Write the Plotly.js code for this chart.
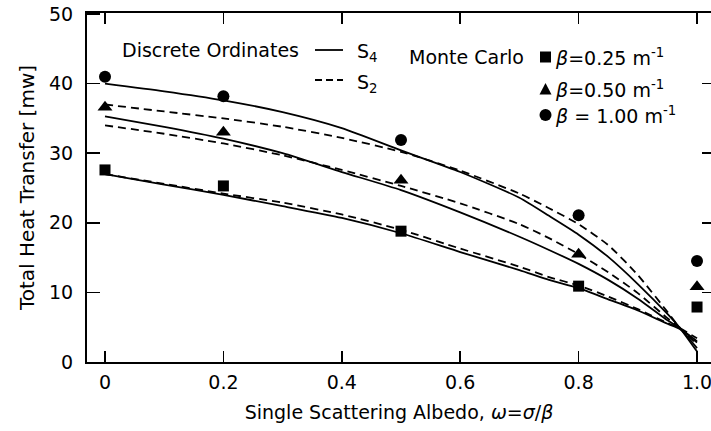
<!DOCTYPE html>
<html>
<head>
<meta charset="utf-8">
<script src="https://cdn.plot.ly/plotly-3.0.1.min.js"></script>
<style>html,body{margin:0;padding:0;background:#fff;overflow:hidden}</style>
</head>
<body>
<div id="chart" style="width:711px;height:431px"></div>
<script>
// ---- Monte Carlo points ----
const mcAlbedo = [0, 0.2, 0.5, 0.8, 1.0];
const mcBeta025 = [27.6, 25.3, 18.8, 10.9, 7.9];
const mcBeta050 = [36.6, 33.0, 26.1, 15.5, 10.8];
const mcBeta100 = [41.0, 38.2, 31.9, 21.1, 14.5];

// ---- Discrete ordinates curves ----
const doAlbedo = [0, 0.1, 0.2, 0.3, 0.4, 0.5, 0.6, 0.7, 0.75, 0.8, 0.85, 0.9, 0.95, 0.97, 1.0];
const s4Beta100 = [40.0, 38.9, 37.6, 35.9, 33.6, 30.4, 27.3, 23.6, 21.0, 18.3, 15.1, 11.2, 6.9, 5.0, 1.5];
const s2Beta100 = [37.0, 36.0, 35.0, 33.8, 32.2, 30.2, 27.5, 24.2, 22.1, 19.8, 16.8, 12.5, 7.2, 5.0, 2.6];
const s4Beta050 = [35.3, 33.8, 32.1, 30.0, 27.3, 24.7, 21.5, 18.0, 16.1, 14.1, 11.8, 9.1, 6.0, 4.9, 2.0];
const s2Beta050 = [34.0, 32.8, 31.4, 29.7, 27.6, 25.3, 22.8, 19.8, 17.8, 15.5, 12.9, 9.9, 6.3, 5.0, 2.8];
const s4Beta025 = [27.0, 25.5, 24.0, 22.4, 20.7, 18.5, 15.8, 13.2, 11.8, 10.6, 9.0, 7.4, 5.5, 4.8, 3.0];
const s2Beta025 = [27.0, 25.6, 24.2, 22.9, 21.2, 19.0, 16.3, 13.7, 12.2, 11.0, 9.4, 7.6, 5.6, 4.9, 3.4];

// ---- ticks ----
const xTickVals = [0, 0.2, 0.4, 0.6, 0.8, 1.0];
const xTickText = ["0", "0.2", "0.4", "0.6", "0.8", "1.0"];
const yTickVals = [0, 10, 20, 30, 40, 50];
const yTickText = ["0", "10", "20", "30", "40", "50"];
const yRightTicks = [10, 20, 30, 40];

const FONT = "DejaVu Sans, Verdana, sans-serif";
const FS = 19;
const LW = 1.8;
const DASH = "8px,5px";

function curve(y, name, dash) {
  return {x: doAlbedo, y: y, name: name, type: "scatter", mode: "lines",
    line: {color: "black", width: LW, dash: dash, shape: "spline", smoothing: 0.6},
    showlegend: false, hoverinfo: "skip"};
}
function pts(y, name, symbol, size) {
  return {x: mcAlbedo, y: y, name: name, type: "scatter", mode: "markers",
    marker: {color: "black", symbol: symbol, size: size}, showlegend: false};
}

const traces = [
  curve(s4Beta100, "S4 β=1.00", "solid"),
  curve(s2Beta100, "S2 β=1.00", DASH),
  curve(s4Beta050, "S4 β=0.50", "solid"),
  curve(s2Beta050, "S2 β=0.50", DASH),
  curve(s4Beta025, "S4 β=0.25", "solid"),
  curve(s2Beta025, "S2 β=0.25", DASH),
  pts(mcBeta025, "Monte Carlo β=0.25", "square", 11),
  pts(mcBeta050, "Monte Carlo β=0.50", "triangle-up", 13),
  pts(mcBeta100, "Monte Carlo β=1.00", "circle", 12)
];

// plot box in pixels (for placing the hand-drawn key)
const L = 87, R = 711, T = 13, B = 362;
const px = v => (v - L) / (R - L);
const py = v => (B - v) / (B - T);

function note(text, x, y, anchor) {
  return {text: text, xref: "paper", yref: "paper", x: px(x), y: py(y),
    xanchor: anchor || "left", yanchor: "middle", showarrow: false,
    font: {family: FONT, size: FS, color: "black"}};
}

const annotations = [
  note("Discrete Ordinates", 120, 50),
  note("S<sub>4</sub>", 355, 52),
  note("S<sub>2</sub>", 355, 83),
  note("Monte Carlo", 407, 57),
  note("<i>β</i>=0.25 m<sup>-1</sup>", 553, 57),
  note("<i>β</i>=0.50 m<sup>-1</sup>", 553, 89),
  note("<i>β</i> = 1.00 m<sup>-1</sup>", 553, 115)
];

const shapes = [
  {type: "line", xref: "paper", yref: "paper", x0: px(315), x1: px(343), y0: py(50), y1: py(50),
    line: {color: "black", width: LW}},
  {type: "line", xref: "paper", yref: "paper", x0: px(315), x1: px(343), y0: py(80), y1: py(80),
    line: {color: "black", width: LW, dash: "7px,4px"}},
  {type: "rect", xref: "paper", yref: "paper", x0: px(540), x1: px(551), y0: py(51.5), y1: py(62.5),
    fillcolor: "black", line: {width: 0}},
  {type: "path", xref: "paper", yref: "paper",
    path: "M " + px(539.5) + " " + py(94.5) + " L " + px(551.5) + " " + py(94.5) + " L " + px(545.5) + " " + py(83) + " Z",
    fillcolor: "black", line: {width: 0}},
  {type: "circle", xref: "paper", yref: "paper", x0: px(539.5), x1: px(551.5), y0: py(109), y1: py(121),
    fillcolor: "black", line: {width: 0}}
];

const layout = {
  width: 711, height: 431,
  margin: {l: L, r: 711 - R, t: T, b: 431 - B},
  paper_bgcolor: "white", plot_bgcolor: "white",
  font: {family: FONT, size: FS, color: "black"},
  xaxis: {
    range: [-0.0304, 1.0236], tickvals: xTickVals, ticktext: xTickText,
    ticks: "inside", ticklen: 11, tickwidth: 1.6, tickcolor: "black",
    showline: true, linewidth: 2, linecolor: "black", mirror: "ticks",
    showgrid: false, zeroline: false, ticklabelstandoff: 2, ticklabeloverflow: "allow",
    tickfont: {family: FONT, size: FS},
    title: {text: "Single Scattering Albedo, <i>ω</i>=<i>σ</i>/<i>β</i>", font: {family: FONT, size: FS}, standoff: 14}
  },
  yaxis: {
    range: [0, 50.15], tickvals: yTickVals, ticktext: yTickText,
    ticks: "inside", ticklen: 13, tickwidth: 1.6, tickcolor: "black",
    showline: true, linewidth: 2, linecolor: "black", mirror: false,
    showgrid: false, zeroline: false, ticklabelstandoff: 8, ticklabeloverflow: "allow",
    tickfont: {family: FONT, size: FS},
    title: {text: "Total Heat Transfer [mw]", font: {family: FONT, size: 20}, standoff: 9}
  },
  yaxis2: {
    overlaying: "y", anchor: "x", side: "right", range: [0, 50.15],
    tickvals: yRightTicks, ticks: "inside", ticklen: 9, tickwidth: 1.6, tickcolor: "black",
    showticklabels: false, showline: false, showgrid: false, zeroline: false
  },
  annotations: annotations,
  shapes: shapes,
  showlegend: false
};

// a silent trace so that the right-hand tick axis is drawn
traces.push({x: mcAlbedo, y: mcBeta025, yaxis: "y2", type: "scatter", mode: "lines",
  line: {width: 0, color: "rgba(0,0,0,0)"}, hoverinfo: "skip", showlegend: false, name: "axis helper"});

Plotly.newPlot("chart", traces, layout, {displayModeBar: false, staticPlot: true});
</script>
</body>
</html>
